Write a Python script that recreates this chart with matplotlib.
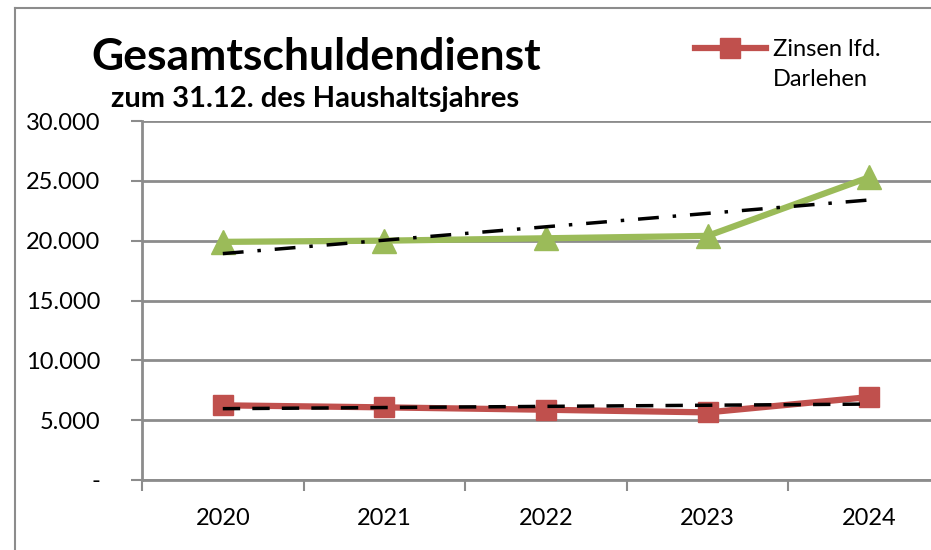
import numpy as np
import matplotlib
matplotlib.use("Agg")
import matplotlib.pyplot as plt
from matplotlib.lines import Line2D
from matplotlib.ticker import FuncFormatter

years = ["2020", "2021", "2022", "2023", "2024"]
zinsen = [6240, 6070, 5870, 5650, 6930]
gesamt = [19900, 20000, 20200, 20400, 25300]
yticks = [0, 5000, 10000, 15000, 20000, 25000, 30000]
legend_lines = ["Zinsen lfd.", "Darlehen"]
title = "Gesamtschuldendienst"
subtitle = "zum 31.12. des Haushaltsjahres"

plt.rcParams['font.family'] = ['Lato', 'DejaVu Sans']

W, H = 931, 550
fig = plt.figure(figsize=(W / 100, H / 100), dpi=100)
fig.patch.set_facecolor("white")

ax = fig.add_axes([142 / W, 1 - 480 / H, (950 - 142) / W, (480 - 121) / H])
x = np.arange(len(years))

grid_c = "#8c8c8c"
ax.set_xlim(-0.5, len(years) - 0.5)
ax.set_ylim(0, 30000)
ax.set_yticks(yticks)
ax.yaxis.set_major_formatter(FuncFormatter(
    lambda v, p: "-" if v == 0 else f"{int(v):,}".replace(",", ".")))
ax.yaxis.grid(True, color=grid_c, lw=2)
ax.set_axisbelow(True)

ax.set_xticks(np.arange(-0.5, len(years) + 0.5, 1))
ax.set_xticklabels([])
ax.set_xticks(x, minor=True)
ax.set_xticklabels(years, minor=True)
ax.tick_params(axis="x", which="minor", length=0, pad=20, labelsize=17)
ax.tick_params(axis="x", which="major", length=8, width=1.5, color=grid_c)
ax.tick_params(axis="y", length=8, width=1.5, color=grid_c, labelsize=17, pad=22)
for lab in ax.get_yticklabels():
    lab.set_horizontalalignment("right")

for s in ["top", "right"]:
    ax.spines[s].set_visible(False)
for s in ["left", "bottom"]:
    ax.spines[s].set_color(grid_c)
    ax.spines[s].set_linewidth(2)

green = "#9BBB59"
red = "#C0504D"

ax.plot(x, gesamt, color=green, lw=4.5, marker="^", markersize=17,
        clip_on=False, zorder=3)
ax.plot(x, zinsen, color=red, lw=4.5, marker="s", markersize=14,
        clip_on=False, zorder=3, label=legend_lines[0])

cg = np.polyfit(x, gesamt, 1)
cz = np.polyfit(x, zinsen, 1)
ax.plot(x, np.polyval(cg, x), color="black", lw=2.5, zorder=4,
        dashes=(6, 4, 1, 4))
ax.plot(x, np.polyval(cz, x), color="black", lw=2.5, zorder=4,
        dashes=(5, 3.5))

leg = fig.legend(loc="center left", bbox_to_anchor=(695 / W, 1 - 50 / H),
                 frameon=False, fontsize=17, handlelength=3.0,
                 handletextpad=0.3, borderpad=0, borderaxespad=0)

fig.text(316 / W, 1 - 57 / H, title, ha="center", va="center",
         fontsize=32, fontweight="bold")
fig.text(315 / W, 1 - 99 / H, subtitle, ha="center", va="center",
         fontsize=21, fontweight="bold")

fig.canvas.draw()
bb = leg.get_texts()[0].get_window_extent()
fig.text(bb.x0 / W, 1 - 80 / H, legend_lines[1], ha="left", va="center",
         fontsize=17)

# chart frame (cropped)
fig.add_artist(Line2D([15 / W, 15 / W], [0, 1 - 7.5 / H], color="#8c8c8c",
                      lw=1.5, transform=fig.transFigure))
fig.add_artist(Line2D([15 / W, 1], [1 - 7.5 / H, 1 - 7.5 / H], color="#8c8c8c",
                      lw=1.5, transform=fig.transFigure))

fig.savefig("out.png", dpi=100)
